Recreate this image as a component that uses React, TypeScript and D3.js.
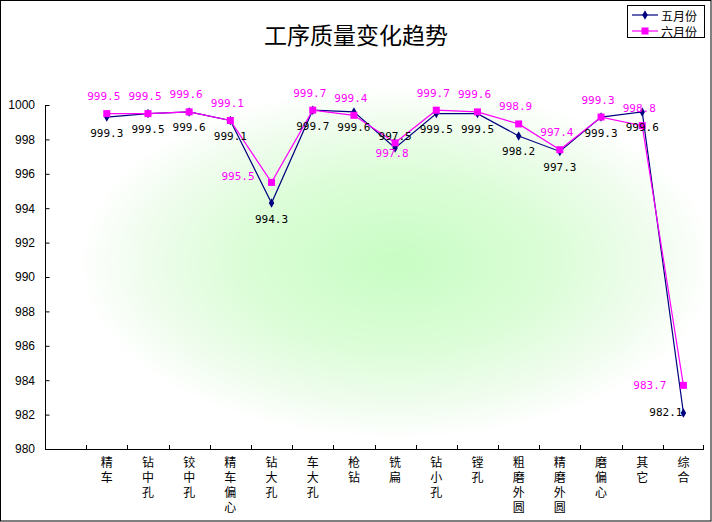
import React, { useEffect, useRef } from "react";
import * as d3 from "d3";

// first slot is empty, like the source sheet
const categories = ["", "精车", "钻中孔", "铰中孔", "精车偏心", "钻大孔", "车大孔", "枪钻", "铣扁", "钻小孔", "镗孔", "粗磨外圆", "精磨外圆", "磨偏心", "其它", "综合"];
const mayValues = [999.3, 999.5, 999.6, 999.1, 994.3, 999.7, 999.6, 997.5, 999.5, 999.5, 998.2, 997.3, 999.3, 999.6, 982.1];
const juneValues = [999.5, 999.5, 999.6, 999.1, 995.5, 999.7, 999.4, 997.8, 999.7, 999.6, 998.9, 997.4, 999.3, 998.8, 983.7];
const yTicks = [980, 982, 984, 986, 988, 990, 992, 994, 996, 998, 1000];
const seriesNames = ["五月份", "六月份"];

// where each data label sits: a = above, b = below, l = left, n = left, tight
const mayLabelPos = ["b", "b", "b", "b", "b", "b", "b", "a", "b", "b", "b", "b", "b", "b", "n"];
const juneLabelPos = ["a", "a", "a", "a", "l", "a", "a", "b", "a", "a", "a", "a", "a", "a", "l"];

const App = () => {
  const ref = useRef<SVGSVGElement>(null);

  useEffect(() => {
    if (!ref.current) return;
    const svg = d3.select(ref.current);
    svg.selectAll("*").remove();

    const W = 712;
    const H = 522;
    const left = 45;
    const right = 704;
    const top = 105;
    const bottom = 449;

    const x = d3.scaleBand().domain(categories.map((c, i) => c + "#" + i)).range([left, right]).padding(0);
    const y = d3.scaleLinear().domain([980, 1000]).range([bottom, top]);
    const cx = (i: number) => (x(categories[i + 1] + "#" + (i + 1)) || 0) + x.bandwidth() / 2;

    // 1) BACKGROUND + FRAME
    const defs = svg.append("defs");
    const grad = defs.append("radialGradient")
      .attr("id", "plotGlow")
      .attr("cx", "0.52").attr("cy", "0.5").attr("r", "0.5");
    grad.append("stop").attr("offset", "0").attr("stop-color", "#c8fdc4");
    grad.append("stop").attr("offset", "0.5").attr("stop-color", "#dcfdd8");
    grad.append("stop").attr("offset", "0.8").attr("stop-color", "#f0fdee");
    grad.append("stop").attr("offset", "1").attr("stop-color", "#ffffff");

    svg.append("rect").attr("x", 0).attr("y", 0).attr("width", W).attr("height", H).attr("fill", "#fff");
    svg.append("rect")
      .attr("x", left + 20).attr("y", top - 20)
      .attr("width", right - left - 20).attr("height", bottom - top + 10)
      .attr("fill", "url(#plotGlow)");
    svg.append("rect")
      .attr("x", 0.5).attr("y", 0.5).attr("width", W - 1.5).attr("height", H - 1.5)
      .attr("fill", "none").attr("stroke", "#000").attr("stroke-width", 1);

    // 2) TITLE
    svg.append("text")
      .attr("x", 356).attr("y", 44)
      .attr("text-anchor", "middle")
      .attr("font-family", "'Noto Sans CJK SC', sans-serif")
      .attr("font-size", "23px")
      .attr("fill", "#000")
      .text("工序质量变化趋势");

    // 3) AXES
    const yAxis = svg.append("g").attr("transform", `translate(${left},0)`)
      .call(d3.axisRight(y).tickValues(yTicks).tickSize(4).tickFormat(d3.format("d")));
    yAxis.select(".domain").attr("d", `M0.5,${top}V${bottom}`).attr("stroke", "#000");
    yAxis.selectAll(".tick line").attr("stroke", "#000").attr("x1", 0.5).attr("x2", 4.5);
    yAxis.selectAll(".tick text")
      .attr("x", -10).attr("text-anchor", "end")
      .attr("font-family", "'Liberation Sans', Arial, sans-serif")
      .attr("font-size", "12px").attr("fill", "#000");

    const xg = svg.append("g");
    xg.append("line")
      .attr("x1", left).attr("x2", right)
      .attr("y1", bottom + 0.5).attr("y2", bottom + 0.5)
      .attr("stroke", "#000");
    xg.selectAll("line.tk")
      .data(categories.slice(1))
      .enter()
      .append("line")
      .attr("class", "tk")
      .attr("x1", (d, i) => Math.round(x(d + "#" + (i + 1)) || 0) + 0.5)
      .attr("x2", (d, i) => Math.round(x(d + "#" + (i + 1)) || 0) + 0.5)
      .attr("y1", bottom - 4).attr("y2", bottom)
      .attr("stroke", "#000");
    xg.append("line")
      .attr("x1", right - 0.5).attr("x2", right - 0.5)
      .attr("y1", bottom - 4).attr("y2", bottom)
      .attr("stroke", "#000");

    // category names written top-to-bottom, one glyph per row
    categories.slice(1).forEach((d, i) => {
      Array.from(d).forEach((ch, k) => {
        xg.append("text")
          .attr("x", cx(i))
          .attr("y", 467 + k * 15)
          .attr("font-family", "'Noto Sans CJK SC', sans-serif")
          .attr("font-size", "12px")
          .attr("text-anchor", "middle")
          .attr("fill", "#000")
          .text(ch);
      });
    });

    // 4) LINES + MARKERS
    const line = d3.line<number>().x((d, i) => cx(i)).y(d => y(d));

    svg.append("path").datum(mayValues)
      .attr("d", line).attr("fill", "none")
      .attr("stroke", "#000080").attr("stroke-width", 1.2);
    svg.append("path").datum(juneValues)
      .attr("d", line).attr("fill", "none")
      .attr("stroke", "#ff00ff").attr("stroke-width", 1.2);

    const diamond = d3.symbol().type(d3.symbolDiamond).size(26);
    svg.selectAll("path.may")
      .data(mayValues)
      .enter()
      .append("path")
      .attr("class", "may")
      .attr("d", diamond)
      .attr("transform", (d, i) => `translate(${cx(i)},${y(d)})`)
      .attr("fill", "#000080");
    svg.selectAll("rect.june")
      .data(juneValues)
      .enter()
      .append("rect")
      .attr("class", "june")
      .attr("x", (d, i) => cx(i) - 3.5)
      .attr("y", d => y(d) - 3.5)
      .attr("width", 7).attr("height", 7)
      .attr("fill", "#ff00ff");

    // 5) DATA LABELS
    const addLabels = (vals: number[], pos: string[], color: string, cls: string, dxMid: number) => {
      svg.selectAll("text." + cls)
        .data(vals)
        .enter()
        .append("text")
        .attr("class", cls)
        .attr("font-family", "'DejaVu Sans Mono', monospace")
        .attr("font-size", "11px")
        .attr("fill", color)
        .attr("dominant-baseline", "central")
        .attr("text-anchor", (d, i) => (pos[i] === "l" || pos[i] === "n") ? "end" : "middle")
        .attr("x", (d, i) => {
          if (pos[i] === "l") return cx(i) - 17;
          if (pos[i] === "n") return cx(i) - 1;
          return cx(i) + dxMid;
        })
        .attr("y", (d, i) => {
          if (pos[i] === "a") return y(d) - (cls === "lm" ? 12 : 17);
          if (pos[i] === "b") return y(d) + (cls === "lj" ? 11 : 16);
          if (pos[i] === "l" && i === 4) return y(d) - 6;
          return y(d);
        })
        .text(d => d.toFixed(1));
    };
    addLabels(mayValues, mayLabelPos, "#000", "lm", 0);
    addLabels(juneValues, juneLabelPos, "#ff00ff", "lj", -3);

    // 6) LEGEND
    const lg = svg.append("g");
    lg.append("rect")
      .attr("x", 627.5).attr("y", 5.5).attr("width", 77).attr("height", 32)
      .attr("fill", "#fff").attr("stroke", "#000");
    const colors = ["#000080", "#ff00ff"];
    seriesNames.forEach((name, k) => {
      const ly = 15 + k * 16;
      lg.append("line")
        .attr("x1", 632).attr("x2", 658).attr("y1", ly).attr("y2", ly)
        .attr("stroke", colors[k]).attr("stroke-width", 1.2);
      if (k === 0) {
        lg.append("path").attr("d", diamond)
          .attr("transform", `translate(645,${ly})`).attr("fill", colors[k]);
      } else {
        lg.append("rect").attr("x", 641.5).attr("y", ly - 3.5)
          .attr("width", 7).attr("height", 7).attr("fill", colors[k]);
      }
      lg.append("text")
        .attr("x", 661).attr("y", ly)
        .attr("dominant-baseline", "central")
        .attr("font-family", "'Noto Sans CJK SC', sans-serif")
        .attr("font-size", "12px").attr("fill", "#000")
        .text(name);
    });
  }, []);

  return (
    <svg
      ref={ref}
      width={712}
      height={522}
      style={{ position: "absolute", left: 0, top: 0, display: "block" }}
    />
  );
};

export default App;
